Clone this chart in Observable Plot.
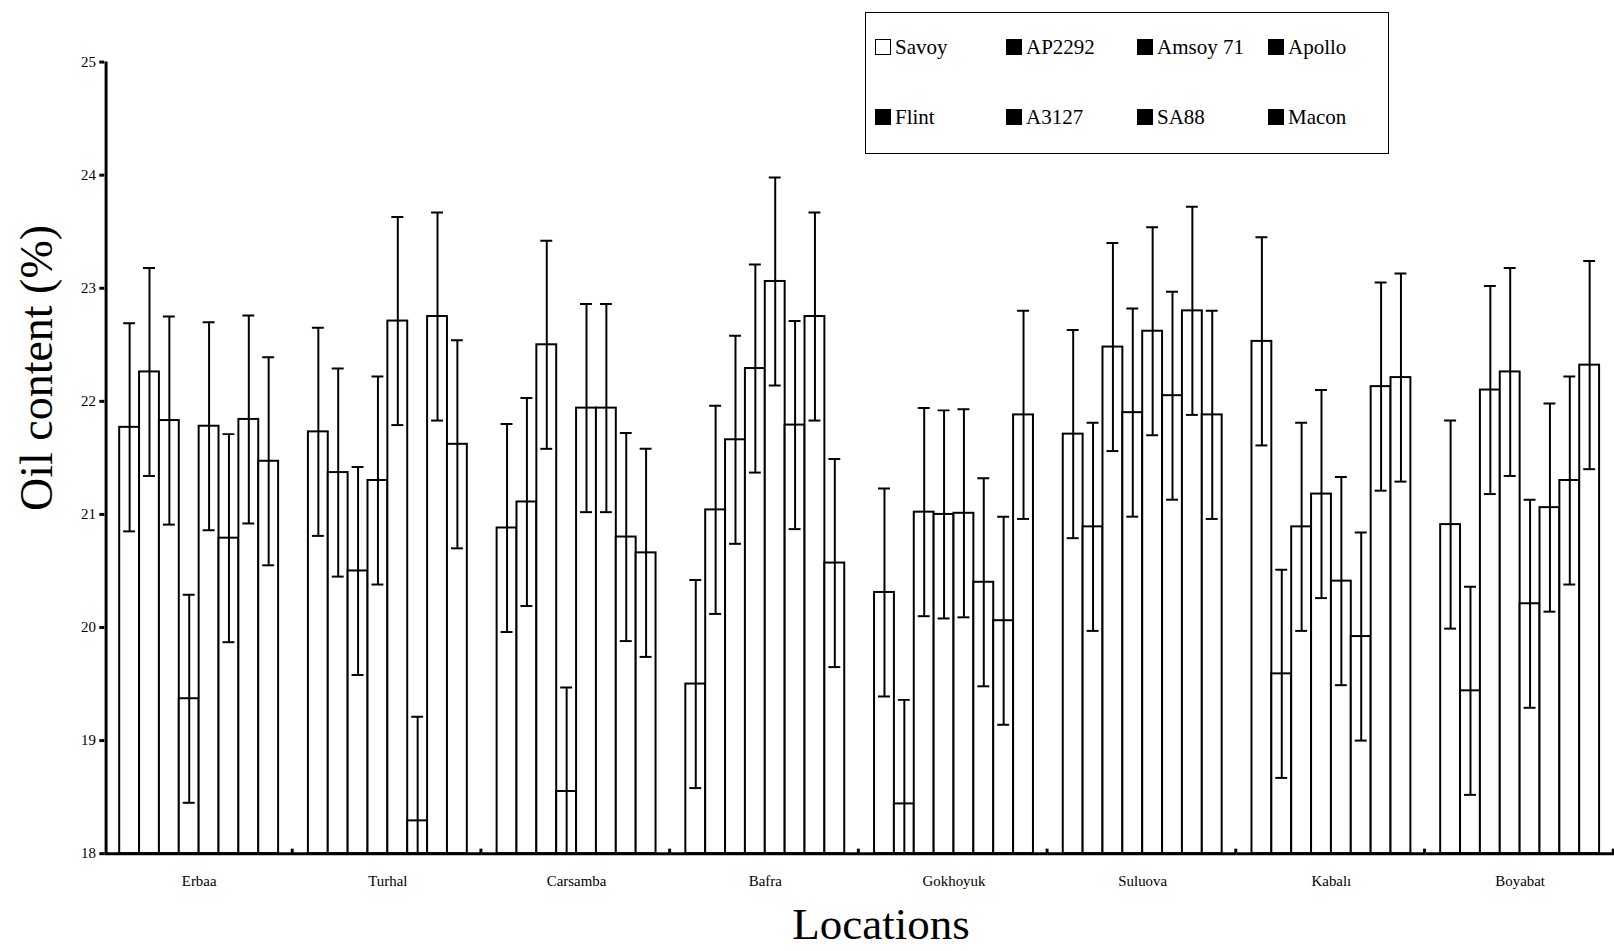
<!DOCTYPE html>
<html><head><meta charset="utf-8">
<script src="https://cdn.jsdelivr.net/npm/d3@7"></script>
<script src="https://cdn.jsdelivr.net/npm/@observablehq/plot@0.6"></script>
<style>
body{margin:0;background:#fff;font-family:"Liberation Serif",serif;}
#wrap{position:relative;width:1614px;height:951px;overflow:hidden;}
#legend{position:absolute;left:865px;top:12px;width:524px;height:142px;border:1px solid #000;box-sizing:border-box;font-size:21px;}
#legend span{position:absolute;white-space:nowrap;}
#legend i{display:inline-block;width:16px;height:16px;border:1.5px solid #000;box-sizing:border-box;margin-right:4px;vertical-align:-1px;}
#ylab{position:absolute;left:36px;top:368px;transform:translate(-50%,-50%) rotate(-90deg);font-size:46px;white-space:nowrap;}
#xlab{position:absolute;left:881px;top:902px;transform:translateX(-50%);font-size:45px;line-height:1;}
</style></head>
<body><div id="wrap"><div id="chart"></div><div id="legend"></div><div id="ylab">Oil content (%)</div><div id="xlab">Locations</div></div>
<script>
const locations = ['Erbaa','Turhal','Carsamba','Bafra','Gokhoyuk','Suluova','Kabalı','Boyabat']
const varieties = ['Savoy','AP2292','Amsoy 71','Apollo','Flint','A3127','SA88','Macon']
const values = [
  [21.77, 22.26, 21.83, 19.37, 21.78, 20.79, 21.84, 21.47],
  [21.73, 21.37, 20.50, 21.30, 22.71, 18.29, 22.75, 21.62],
  [20.88, 21.11, 22.50, 18.55, 21.94, 21.94, 20.80, 20.66],
  [19.50, 21.04, 21.66, 22.29, 23.06, 21.79, 22.75, 20.57],
  [20.31, 18.44, 21.02, 21.00, 21.01, 20.40, 20.06, 21.88],
  [21.71, 20.89, 22.48, 21.90, 22.62, 22.05, 22.80, 21.88],
  [22.53, 19.59, 20.89, 21.18, 20.41, 19.92, 22.13, 22.21],
  [20.91, 19.44, 22.10, 22.26, 20.21, 21.06, 21.30, 22.32]
]
const err = 0.92

const data = []
locations.forEach((loc, i) => varieties.forEach((v, j) => {
  data.push({loc, v, y: values[i][j], lo: values[i][j] - err, hi: values[i][j] + err})
}))

let chart = Plot.plot({
  width: 1625,
  height: 899,
  marginLeft: 105,
  marginRight: 0,
  marginTop: 62,
  marginBottom: 40,
  style: {fontFamily: '"Liberation Serif", serif', fontSize: '15px', color: '#000', background: 'transparent'},
  fx: {domain: locations, padding: 0, label: null, tickSize: 0, tickPadding: 22},
  x: {domain: varieties, paddingInner: 0, paddingOuter: 0.665, axis: null},
  y: {domain: [18, 25], ticks: d3.range(18, 26), tickFormat: d => d, label: null, tickSize: 5},
  marks: [
    Plot.barY(data, {fx: 'loc', x: 'v', y1: 18, y2: 'y', fill: 'white', stroke: 'black', strokeWidth: 2}),
    Plot.ruleX(data, {fx: 'loc', x: 'v', y1: 'lo', y2: 'hi', stroke: 'black', strokeWidth: 2, clip: true}),
    Plot.tickY(data, {fx: 'loc', x: 'v', y: 'hi', stroke: 'black', strokeWidth: 2, insetLeft: 4, insetRight: 4, clip: true}),
    Plot.tickY(data.filter(d => d.lo >= 18), {fx: 'loc', x: 'v', y: 'lo', stroke: 'black', strokeWidth: 2, insetLeft: 4, insetRight: 4}),
    Plot.ruleX(data.filter(d => d.v === 'Macon'), {fx: 'loc', x: 'v', dx: 23.7, y1: 18, y2: 18.04, stroke: 'black', strokeWidth: 3}),
    Plot.ruleY([18], {stroke: 'black', strokeWidth: 3}),
    Plot.ruleX([{loc: 'Erbaa', v: 'Savoy'}], {fx: 'loc', x: 'v', dx: -23.7, y1: 18, y2: 25, stroke: 'black', strokeWidth: 3})
  ]
})
d3.select('#chart').append(() => chart)
d3.select(chart).selectAll('[aria-label="y-axis tick"] path').attr('stroke-width', 3)

const lg = d3.select('#legend')
varieties.forEach((v, j) => {
  const s = lg.append('span').style('left', (9 + (j % 4) * 131) + 'px').style('top', (j < 4 ? 22 : 92) + 'px')
  s.append('i').style('background', j === 0 ? '#fff' : '#000')
  s.append('text').text(v)
})
</script></body></html>
